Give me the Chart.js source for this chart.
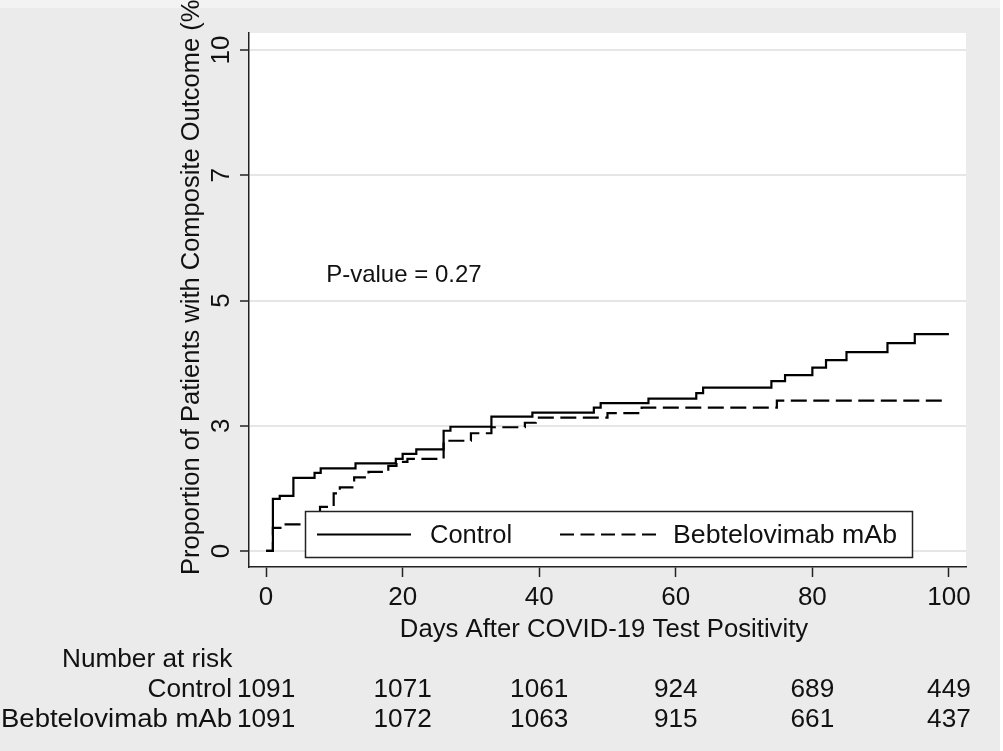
<!DOCTYPE html>
<html><head><meta charset="utf-8">
<script src="https://cdn.jsdelivr.net/npm/chart.js@4.4.1/dist/chart.umd.min.js"></script>
<style>html,body{margin:0;padding:0;background:#ebebeb;overflow:hidden}</style>
</head><body>
<canvas id="c" width="1003" height="751"></canvas>
<script>
// ---- data ----
const controlDays = [0, 1.0, 2.0, 4.0, 7.1, 8.0, 13.1, 19.0, 20.0, 22.0, 26.0, 27.0, 33.0, 39.0, 48.0, 49.0, 56.0, 63.0, 64.0, 74.0, 76.0, 80.0, 82.0, 85.0, 91.0, 95.0, 100];
const controlPct  = [0, 1.04, 1.10, 1.46, 1.56, 1.65, 1.75, 1.84, 1.94, 2.03, 2.40, 2.48, 2.68, 2.76, 2.86, 2.95, 3.04, 3.15, 3.26, 3.39, 3.51, 3.66, 3.81, 3.97, 4.15, 4.33, 4.33];
const bebDays = [0, 1.0, 2.5, 7.9, 9.9, 10.8, 12.9, 15.0, 17.9, 19.1, 20.7, 26.0, 30.0, 33.0, 37.9, 39.5, 50.0, 55.0, 74.8, 99];
const bebPct  = [0, 0.46, 0.53, 0.88, 1.15, 1.27, 1.47, 1.58, 1.70, 1.78, 1.84, 2.20, 2.35, 2.47, 2.56, 2.66, 2.75, 2.86, 3.00, 3.00];
const xTicks = [0, 20, 40, 60, 80, 100];
const yTicks = [0, 2.5, 5, 7.5, 10];
const yTickLabels = ['0', '3', '5', '7', '10'];
const riskTimes = [0, 20, 40, 60, 80, 100];
const controlAtRisk = [1091, 1071, 1061, 924, 689, 449];
const bebAtRisk = [1091, 1072, 1063, 915, 661, 437];
const seriesNames = ['Control', 'Bebtelovimab mAb'];
const yTitle = 'Proportion of Patients with Composite Outcome (%)';
const xTitle = 'Days After COVID-19 Test Positivity';
const pText = 'P-value = 0.27';

const FF = '"Liberation Sans", Arial, sans-serif';
const fnt = s => s + 'px ' + FF;
const INK = '#111';

const toPts = (xs, ys) => xs.map((x, i) => ({x, y: ys[i]}));

// draw text left-aligned at (x0,y) horizontally stretched to a target width
function fitText(ctx, txt, x0, y, w) {
  const m = ctx.measureText(txt).width;
  ctx.save();
  ctx.translate(x0, y);
  ctx.scale(w / m, 1);
  ctx.textAlign = 'left';
  ctx.fillText(txt, 0, 0);
  ctx.restore();
}

const deco = {
  id: 'deco',
  beforeDraw(chart) {
    const {ctx, chartArea: a} = chart;
    ctx.save();
    ctx.fillStyle = '#ebebeb'; ctx.fillRect(0, 0, chart.width, chart.height);
    ctx.fillStyle = '#f3f3f3'; ctx.fillRect(0, 0, chart.width, 8);
    ctx.fillStyle = '#ffffff'; ctx.fillRect(1000, 0, 3, chart.height);
    ctx.fillStyle = '#ffffff'; ctx.fillRect(a.left, a.top, a.right - a.left, a.bottom - a.top);
    ctx.restore();
  },
  afterDatasetsDraw(chart) {
    const {ctx, scales: {x, y}} = chart;
    ctx.save();
    // P-value
    ctx.font = fnt(24); ctx.fillStyle = INK; ctx.textBaseline = 'middle'; ctx.textAlign = 'left';
    ctx.fillText(pText, x.getPixelForValue(8.8), y.getPixelForValue(5.5));
    // legend
    const bx = 305.5, by = 511.5, bw = 607, bh = 46, ly = by + bh / 2;
    ctx.fillStyle = '#fff'; ctx.fillRect(bx, by, bw, bh);
    ctx.strokeStyle = '#222'; ctx.lineWidth = 1.5; ctx.strokeRect(bx, by, bw, bh);
    ctx.strokeStyle = '#000'; ctx.lineWidth = 2.2;
    ctx.beginPath(); ctx.moveTo(317, ly); ctx.lineTo(411, ly); ctx.stroke();
    ctx.setLineDash([14, 6.5]);
    ctx.beginPath(); ctx.moveTo(560, ly); ctx.lineTo(656, ly); ctx.stroke();
    ctx.setLineDash([]);
    ctx.fillStyle = INK; ctx.font = fnt(25.5);
    ctx.fillText(seriesNames[0], 430, ly + 1);
    fitText(ctx, seriesNames[1], 673, ly + 1, 224);
    ctx.restore();
  },
  afterDraw(chart) {
    const {ctx, scales: {x, y}} = chart;
    ctx.save();
    ctx.fillStyle = INK;
    // y tick labels (rotated)
    ctx.font = fnt(26);
    ctx.textAlign = 'center'; ctx.textBaseline = 'alphabetic';
    yTicks.forEach((v, i) => {
      ctx.save();
      ctx.translate(229, y.getPixelForValue(v));
      ctx.rotate(-Math.PI / 2);
      ctx.fillText(yTickLabels[i], 0, 0);
      ctx.restore();
    });
    // y title
    ctx.font = fnt(25.5);
    ctx.save();
    ctx.translate(199, 575);
    ctx.rotate(-Math.PI / 2);
    ctx.textAlign = 'left';
    ctx.fillText(yTitle, 0, 0);
    ctx.restore();
    // x title
    ctx.textAlign = 'center'; ctx.textBaseline = 'alphabetic';
    ctx.font = fnt(25.7);
    ctx.fillText(xTitle, 604, 637);
    // number at risk table
    ctx.font = fnt(26.2);
    ctx.textBaseline = 'middle';
    ctx.textAlign = 'left';
    ctx.fillText('Number at risk', 62, 660);
    ctx.textAlign = 'right';
    ctx.fillText(seriesNames[0], 232, 690);
    fitText(ctx, seriesNames[1], 1, 720, 231);
    ctx.textAlign = 'center';
    riskTimes.forEach((t, i) => {
      const px = x.getPixelForValue(t);
      ctx.fillText(String(controlAtRisk[i]), px, 690);
      ctx.fillText(String(bebAtRisk[i]), px, 720);
    });
    ctx.restore();
  }
};

new Chart(document.getElementById('c'), {
  type: 'line',
  data: {
    datasets: [
      {label: seriesNames[0], data: toPts(controlDays, controlPct), borderColor: '#000', borderWidth: 2.2, stepped: 'before', pointRadius: 0, fill: false},
      {label: seriesNames[1], data: toPts(bebDays, bebPct), borderColor: '#000', borderWidth: 2.2, borderDash: [16, 6.5], stepped: 'before', pointRadius: 0, fill: false}
    ]
  },
  options: {
    responsive: false,
    animation: false,
    devicePixelRatio: 1,
    layout: {padding: {left: 240, top: 33, right: 37, bottom: 134}},
    plugins: {legend: {display: false}, tooltip: {enabled: false}, title: {display: false}},
    scales: {
      x: {
        type: 'linear', min: -2.5, max: 102.5,
        afterBuildTicks: s => { s.ticks = xTicks.map(v => ({value: v})); },
        afterFit: s => { s.height = 50; },
        grid: {drawOnChartArea: false, drawTicks: true, tickLength: 10, tickColor: '#222', tickWidth: 1.5},
        border: {color: '#222', width: 1.5},
        ticks: {color: INK, font: {family: FF, size: 26}, padding: 5, maxRotation: 0, minRotation: 0, autoSkip: false, callback: v => String(v)}
      },
      y: {
        type: 'linear', min: -0.32, max: 10.34,
        afterBuildTicks: s => { s.ticks = yTicks.map(v => ({value: v})); },
        afterFit: s => { s.width = 9; },
        grid: {color: '#e6e6e6', lineWidth: 2, drawTicks: true, tickLength: 9, tickColor: '#222', tickWidth: 1.5},
        border: {color: '#222', width: 1.5},
        ticks: {display: false}
      }
    }
  },
  plugins: [deco]
});
</script>
</body></html>
